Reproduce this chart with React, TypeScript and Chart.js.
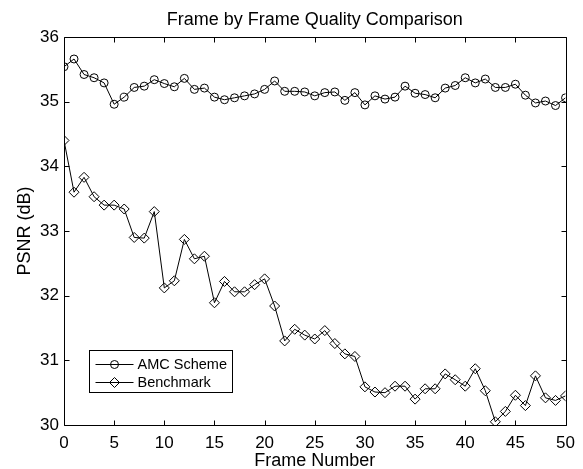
import React, { useEffect, useRef } from "react";
import { Chart, registerables } from "chart.js";

Chart.register(...registerables);

const frames = [
  0, 1, 2, 3, 4, 5, 6, 7, 8, 9, 10, 11, 12, 13, 14, 15, 16, 17, 18, 19, 20, 21, 22, 23, 24, 25,
  26, 27, 28, 29, 30, 31, 32, 33, 34, 35, 36, 37, 38, 39, 40, 41, 42, 43, 44, 45, 46, 47, 48, 49, 50,
];

const amcScheme = [
  35.54, 35.66, 35.42, 35.37, 35.29, 34.96, 35.07, 35.22, 35.24, 35.34, 35.28, 35.23, 35.36, 35.19,
  35.21, 35.07, 35.03, 35.06, 35.09, 35.12, 35.19, 35.32, 35.16, 35.16, 35.15, 35.09, 35.14, 35.15,
  35.02, 35.14, 34.95, 35.09, 35.04, 35.07, 35.24, 35.13, 35.11, 35.06, 35.21, 35.25, 35.37, 35.29,
  35.35, 35.22, 35.22, 35.27, 35.1, 34.98, 35.01, 34.94, 35.06,
];

const benchmark = [
  34.4, 33.6, 33.83, 33.53, 33.4, 33.4, 33.34, 32.9, 32.89, 33.3, 32.12, 32.23, 32.87, 32.57, 32.61,
  31.89, 32.22, 32.06, 32.06, 32.17, 32.26, 31.84, 31.3, 31.48, 31.39, 31.33, 31.46, 31.26, 31.1,
  31.06, 30.59, 30.51, 30.5, 30.6, 30.6, 30.4, 30.56, 30.56, 30.79, 30.7, 30.6, 30.87, 30.53, 30.05,
  30.21, 30.46, 30.3, 30.76, 30.42, 30.38, 30.45,
];

const seriesLabels = ["AMC Scheme", "Benchmark"];
const titleText = "Frame by Frame Quality Comparison";
const xTitle = "Frame Number";
const yTitle = "PSNR (dB)";

const FONT = "'Liberation Sans', Arial, Helvetica, sans-serif";

function drawMarker(ctx: CanvasRenderingContext2D, style: string, x: number, y: number) {
  ctx.beginPath();
  if (style === "circle") {
    ctx.arc(x, y, 4, 0, Math.PI * 2);
  } else {
    const r = 5;
    ctx.moveTo(x, y - r);
    ctx.lineTo(x + r, y);
    ctx.lineTo(x, y + r);
    ctx.lineTo(x - r, y);
    ctx.closePath();
  }
  ctx.stroke();
}

const boxTicksPlugin = {
  id: "boxTicks",
  afterDatasetsDraw(chart: any) {
    const { ctx, chartArea } = chart;
    const { left, right, top, bottom } = chartArea;
    const xs = chart.scales.x;
    const ys = chart.scales.y;
    ctx.save();
    ctx.strokeStyle = "#000";
    ctx.lineWidth = 1;
    ctx.beginPath();
    const L = Math.round(left) + 0.5;
    const R = Math.round(right) + 0.5;
    const T = Math.round(top) + 0.5;
    const B = Math.round(bottom) + 0.5;
    ctx.rect(L, T, R - L, B - T);
    const len = 5;
    xs.ticks.forEach((t: any) => {
      const px = Math.round(xs.getPixelForValue(t.value)) + 0.5;
      ctx.moveTo(px, B);
      ctx.lineTo(px, B - len);
      ctx.moveTo(px, T);
      ctx.lineTo(px, T + len);
    });
    ys.ticks.forEach((t: any) => {
      const py = Math.round(ys.getPixelForValue(t.value)) + 0.5;
      ctx.moveTo(L, py);
      ctx.lineTo(L + len, py);
      ctx.moveTo(R, py);
      ctx.lineTo(R - len, py);
    });
    ctx.stroke();

    // main title centred over the plot area
    ctx.fillStyle = "#000";
    ctx.font = `18px ${FONT}`;
    ctx.textAlign = "center";
    ctx.textBaseline = "middle";
    ctx.fillText(titleText, (left + right) / 2, 20);

    // legend
    const bx = Math.round(left) + 25 + 0.5;
    const bw = 143;
    const bh = 42;
    const by = Math.round(bottom) - 33 - bh + 0.5;
    ctx.fillStyle = "#fff";
    ctx.fillRect(bx, by, bw, bh);
    ctx.strokeRect(bx, by, bw, bh);
    const styles = ["circle", "diamond"];
    chart.data.datasets.forEach((ds: any, i: number) => {
      const cy = Math.round(by + 13 + i * 18.5) + 0.5;
      ctx.beginPath();
      ctx.moveTo(bx + 6, cy);
      ctx.lineTo(bx + 44, cy);
      ctx.stroke();
      drawMarker(ctx, styles[i], bx + 25, cy);
      ctx.fillStyle = "#000";
      ctx.font = `14.5px ${FONT}`;
      ctx.textAlign = "left";
      ctx.textBaseline = "middle";
      ctx.fillText(ds.label, bx + 48, cy);
    });
    ctx.restore();
  },
};

export default function App() {
  const ref = useRef<HTMLCanvasElement | null>(null);
  useEffect(() => {
    if (!ref.current) return;
    const chart = new Chart(ref.current, {
      type: "line",
      data: {
        datasets: [
          {
            label: seriesLabels[0],
            data: frames.map((f, i) => ({ x: f, y: amcScheme[i] })),
            borderColor: "#000",
            borderWidth: 1,
            pointStyle: "circle",
            pointRadius: 4,
            pointBorderWidth: 1,
            pointBorderColor: "#000",
            pointBackgroundColor: "rgba(0,0,0,0)",
            tension: 0,
          },
          {
            label: seriesLabels[1],
            data: frames.map((f, i) => ({ x: f, y: benchmark[i] })),
            borderColor: "#000",
            borderWidth: 1,
            pointStyle: "rectRot",
            pointRadius: 5,
            pointBorderWidth: 1,
            pointBorderColor: "#000",
            pointBackgroundColor: "rgba(0,0,0,0)",
            tension: 0,
          },
        ],
      },
      options: {
        animation: false,
        responsive: false,
        maintainAspectRatio: false,
        layout: { padding: { left: 0, right: 15, top: 37, bottom: 0 } },
        plugins: {
          legend: { display: false },
          tooltip: { enabled: false },
          title: { display: false },
        },
        scales: {
          x: {
            type: "linear",
            min: 0,
            max: 50,
            grid: { display: false, drawTicks: false },
            border: { display: false },
            ticks: {
              stepSize: 5,
              color: "#000",
              padding: 8,
              maxRotation: 0,
              font: { family: FONT, size: 17 },
            },
            title: {
              display: true,
              text: xTitle,
              color: "#000",
              font: { family: FONT, size: 18 },
              padding: { top: 0, bottom: -3 },
            },
            afterFit: (s: any) => {
              s.height = 44;
            },
          },
          y: {
            type: "linear",
            min: 30,
            max: 36,
            grid: { display: false, drawTicks: false },
            border: { display: false },
            ticks: {
              stepSize: 1,
              color: "#000",
              padding: 5,
              font: { family: FONT, size: 17 },
            },
            title: {
              display: true,
              text: yTitle,
              color: "#000",
              font: { family: FONT, size: 18 },
              padding: { top: 14, bottom: 0 },
            },
            afterFit: (s: any) => {
              s.width = 64;
            },
          },
        },
      },
      plugins: [boxTicksPlugin],
    });
    return () => chart.destroy();
  }, []);
  return (
    <div style={{ position: "fixed", left: 0, top: 0, width: 583, height: 469, background: "#fff" }}>
      <canvas ref={ref} width={583} height={469} />
    </div>
  );
}
